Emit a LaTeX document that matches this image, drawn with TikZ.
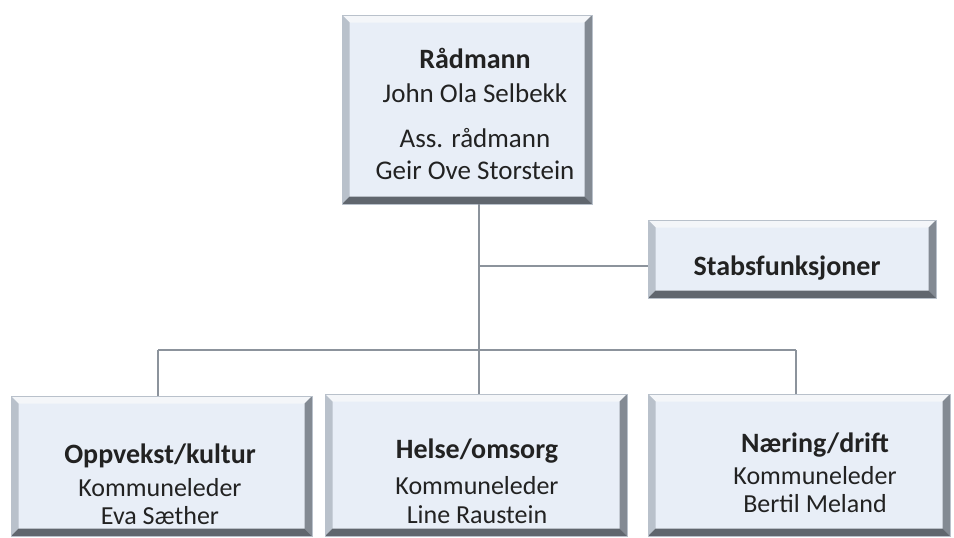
\documentclass[tikz,border=0pt]{standalone}
\usepackage{fontspec}
\setmainfont{Carlito}
\usetikzlibrary{fit}
\definecolor{face}{HTML}{E8EEF7}
\definecolor{bevtop}{HTML}{F4F6F9}
\definecolor{bevleft}{HTML}{B9C1CB}
\definecolor{bevright}{HTML}{838A93}
\definecolor{bevbot}{HTML}{60666E}
\definecolor{conn}{HTML}{8C939C}
\definecolor{txt}{HTML}{222222}
\newcommand{\ppb}{path picture bounding box}
\newcommand{\bw}{7.5pt}
\tikzset{
  bevbox/.style={inner sep=0pt, fill=face, draw=bevleft, line width=0.6pt,
    path picture={
      \fill[bevtop] (\ppb.north west) -- (\ppb.north east) -- ([shift={(-\bw,-\bw)}]\ppb.north east) -- ([shift={(\bw,-\bw)}]\ppb.north west) -- cycle;
      \fill[bevleft] (\ppb.north west) -- ([shift={(\bw,-\bw)}]\ppb.north west) -- ([shift={(\bw,\bw)}]\ppb.south west) -- (\ppb.south west) -- cycle;
      \fill[bevright] (\ppb.north east) -- ([shift={(-\bw,-\bw)}]\ppb.north east) -- ([shift={(-\bw,\bw)}]\ppb.south east) -- (\ppb.south east) -- cycle;
      \fill[bevbot] (\ppb.south west) -- ([shift={(\bw,\bw)}]\ppb.south west) -- ([shift={(-\bw,\bw)}]\ppb.south east) -- (\ppb.south east) -- cycle;
    }},
  ttl/.style={font=\fontsize{28}{32}\selectfont\bfseries, text=txt, inner sep=0pt},
  big/.style={font=\fontsize{27}{31}\selectfont, text=txt, inner sep=0pt},
  sml/.style={font=\fontsize{26}{30}\selectfont, text=txt, inner sep=0pt},
  conn/.style={draw=conn, line width=1.6pt},
}
\begin{document}
\begin{tikzpicture}[x=1pt,y=-1pt]
\useasboundingbox (0,0) rectangle (954,538);
% boxes
\node[bevbox, fit={(342,15) (592,204)}] (top) {};
\node[bevbox, fit={(648,220) (936,298)}] (stabs) {};
\node[bevbox, fit={(11,396) (312,536)}] (left) {};
\node[bevbox, fit={(325,394) (627,536)}] (mid) {};
\node[bevbox, fit={(648,394) (950,536)}] (right) {};
% junctions
\coordinate (jm) at (479,350);
\coordinate (jl) at (158,350);
\coordinate (jr) at (796,350);
\coordinate (js) at (479,266);
% connectors
\draw[conn] (top.south -| jm) -- (mid.north -| jm);
\draw[conn] (js) -- (stabs.west |- js);
\draw[conn] (jl) -- (jr);
\draw[conn] (jl) -- (left.north -| jl);
\draw[conn] (jr) -- (right.north -| jr);
% texts
\node[ttl] (t1) at (475,58) {Rådmann};
\node[big] (t2) at (475,93) {John Ola Selbekk};
\node[big] (t3) at (475,138) {Ass. rådmann};
\node[big] (t4) at (475,170) {Geir Ove Storstein};
\node[ttl] (s1) at (787,268) {Stabsfunksjoner};
\node[ttl] (l1) at (160,456) {Oppvekst/kultur};
\node[sml] (l2) at (160,488) {Kommuneleder};
\node[sml] (l3) at (160,516) {Eva Sæther};
\node[ttl] (m1) at (477,451) {Helse/omsorg};
\node[sml] (m2) at (477,486) {Kommuneleder};
\node[sml] (m3) at (477,515) {Line Raustein};
\node[ttl] (r1) at (815,445) {Næring/drift};
\node[sml] (r2) at (815,476) {Kommuneleder};
\node[sml] (r3) at (815,504) {Bertil Meland};
\end{tikzpicture}
\end{document}
